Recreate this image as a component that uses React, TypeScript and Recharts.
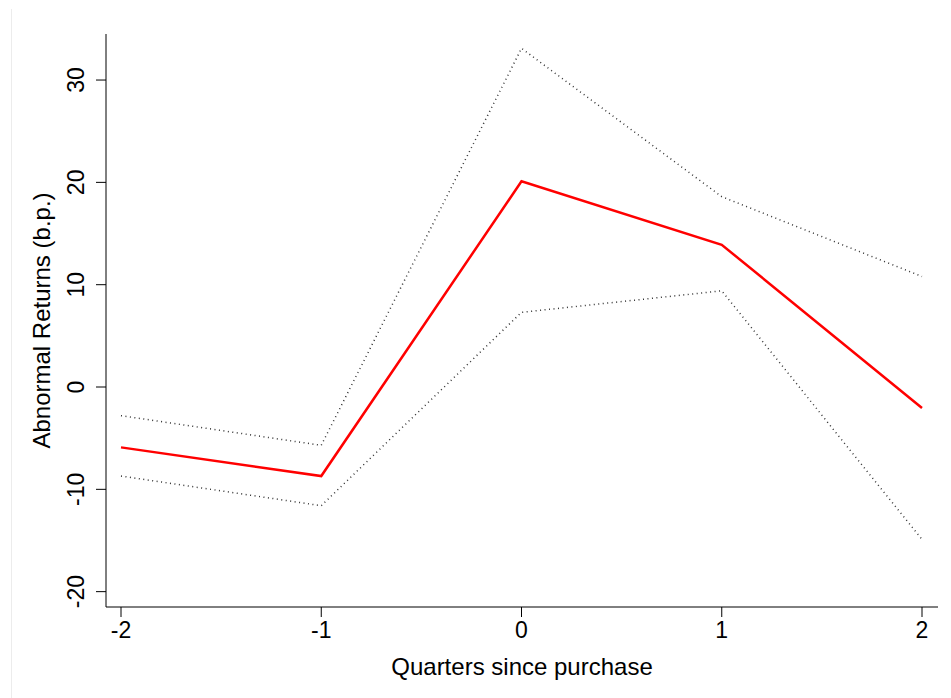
import { LineChart, Line, XAxis, YAxis } from 'recharts';

const quarters = [-2, -1, 0, 1, 2];
const estimate = [-5.9, -8.7, 20.1, 13.9, -2.05];
const upperBand = [-2.8, -5.7, 33.1, 18.6, 10.8];
const lowerBand = [-8.7, -11.6, 7.3, 9.4, -14.9];
const yTicks = [-20, -10, 0, 10, 20, 30];

const data = quarters.map((q, i) => ({
  q,
  est: estimate[i],
  hi: upperBand[i],
  lo: lowerBand[i],
}));

const FONT = 'Liberation Sans, Arial, sans-serif';

function VerticalTick(props: any) {
  const { x, y, payload } = props;
  const cx = x - 10;
  return (
    <text
      x={cx}
      y={y}
      transform={`rotate(-90, ${cx}, ${y})`}
      textAnchor="middle"
      fontFamily={FONT}
      fontSize={23}
      fill="#000"
    >
      {payload.value}
    </text>
  );
}

export default function App() {
  return (
    <div style={{ position: 'absolute', left: 0, top: 0, width: 951, height: 698, background: '#fff' }}>
      <div style={{ position: 'absolute', left: 11, top: 9, width: 1, height: 689, background: '#ececec' }} />
      <LineChart
        width={951}
        height={698}
        data={data}
        margin={{ top: 34, right: 13, bottom: 61, left: 20 }}
      >
        <XAxis
          dataKey="q"
          type="number"
          domain={[-2, 2]}
          ticks={quarters}
          padding={{ left: 15, right: 16 }}
          stroke="#000"
          tickSize={10}
          tick={{ fill: '#000', fontSize: 23, fontFamily: FONT, dy: 3 }}
          label={{
            value: 'Quarters since purchase',
            position: 'insideBottom',
            offset: -38,
            fill: '#000',
            fontSize: 24,
            fontFamily: FONT,
          }}
        />
        <YAxis
          type="number"
          domain={[-21.5, 34.5]}
          ticks={yTicks}
          width={86}
          stroke="#000"
          tickSize={10}
          tick={<VerticalTick />}
          label={{
            value: 'Abnormal Returns (b.p.)',
            angle: -90,
            position: 'insideLeft',
            dx: 16,
            fill: '#000',
            fontSize: 24,
            fontFamily: FONT,
            style: { textAnchor: 'middle' },
          }}
        />
        <Line
          dataKey="hi"
          stroke="#333"
          strokeWidth={1.5}
          strokeDasharray="1 3.5"
          dot={false}
          isAnimationActive={false}
        />
        <Line
          dataKey="lo"
          stroke="#333"
          strokeWidth={1.5}
          strokeDasharray="1 3.5"
          dot={false}
          isAnimationActive={false}
        />
        <Line
          dataKey="est"
          stroke="#ff0000"
          strokeWidth={2.5}
          dot={false}
          isAnimationActive={false}
        />
      </LineChart>
    </div>
  );
}
